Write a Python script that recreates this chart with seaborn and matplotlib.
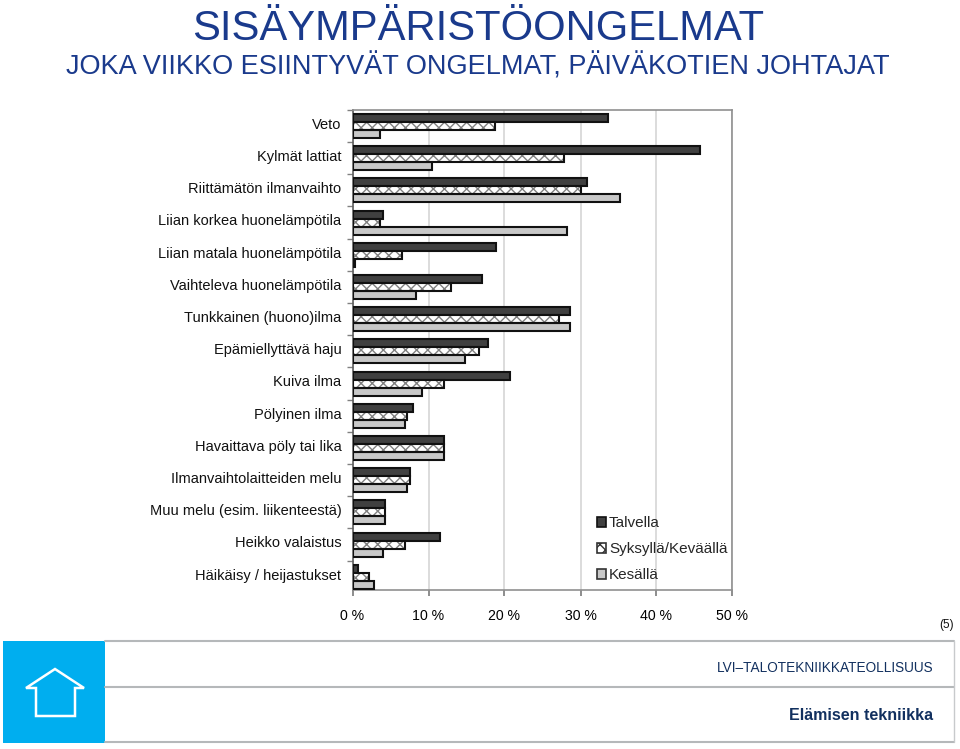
import numpy as np
import pandas as pd
import seaborn as sns
import matplotlib.pyplot as plt
from matplotlib.patches import Patch, Rectangle, Polygon
from matplotlib.lines import Line2D
from matplotlib.transforms import ScaledTranslation

kategoriat = ["Veto", "Kylmät lattiat", "Riittämätön ilmanvaihto", "Liian korkea huonelämpötila",
              "Liian matala huonelämpötila", "Vaihteleva huonelämpötila", "Tunkkainen (huono)ilma",
              "Epämiellyttävä haju", "Kuiva ilma", "Pölyinen ilma", "Havaittava pöly tai lika",
              "Ilmanvaihtolaitteiden melu", "Muu melu (esim. liikenteestä)", "Heikko valaistus",
              "Häikäisy / heijastukset"]
talvella = [33.6, 45.7, 30.8, 4.0, 18.9, 17.0, 28.6, 17.8, 20.7, 7.9, 12.0, 7.6, 4.3, 11.5, 0.7]
syksylla = [18.8, 27.8, 30.0, 3.6, 6.5, 13.0, 27.2, 16.6, 12.0, 7.2, 12.0, 7.6, 4.3, 6.9, 2.2]
kesalla = [3.6, 10.5, 35.2, 28.2, 0.3, 8.4, 28.6, 14.8, 9.1, 6.9, 12.0, 7.2, 4.3, 4.0, 2.8]
kaudet = ["Talvella", "Syksyllä/Keväällä", "Kesällä"]
xtikit = [0, 10, 20, 30, 40, 50]

W, H = 960, 749
sns.set_theme(style="white")
plt.rcParams['font.family'] = ['Liberation Sans', 'DejaVu Sans']
plt.rcParams['hatch.linewidth'] = 1.0

df = pd.DataFrame({"kategoria": kategoriat, kaudet[0]: talvella, kaudet[1]: syksylla, kaudet[2]: kesalla})
df = df.melt(id_vars="kategoria", var_name="kausi", value_name="arvo")

fig = plt.figure(figsize=(W / 100, H / 100), dpi=100)
ax = fig.add_axes([352.5 / W, 1 - 590 / H, 380 / W, 480.5 / H])

varit = {"Talvella": "#404040", "Syksyllä/Keväällä": "white", "Kesällä": "#c8c8c8"}
sns.barplot(data=df, y="kategoria", x="arvo", hue="kausi", hue_order=kaudet, order=kategoriat,
            palette=varit, orient="h", width=0.75, gap=0, errorbar=None,
            edgecolor="#111111", linewidth=1.5, legend=False, ax=ax, zorder=3)

# keskimmäiset palkit: harmaa ristikko + musta reuna erikseen
n = len(kategoriat)
for p in ax.patches[n:2 * n]:
    p.set_hatch("xxx")
    p.set_edgecolor("#808080")
    p.set_linewidth(0)
    ax.add_patch(Rectangle(p.get_xy(), p.get_width(), p.get_height(), fill=False,
                           edgecolor="#111111", linewidth=1.5, zorder=4))

ax.set_xlim(0, 50)
ax.set_ylim(14.41, -0.512)
ax.set_xlabel("")
ax.set_ylabel("")
ax.set_xticks(xtikit)
ax.set_xticklabels([f"{v} %" for v in xtikit], fontsize=10.2, color="black")
ax.xaxis.grid(True, color="#d9d9d9", linewidth=1.3, zorder=0)
ax.yaxis.grid(False)
ax.set_axisbelow(True)
ax.tick_params(axis="x", length=4, color="#808080", pad=9.5, bottom=True)
ax.tick_params(axis="y", which="major", length=0, pad=8, labelsize=10.5, labelcolor="#111111")
ax.set_yticks(np.arange(-0.5, n - 0.5), minor=True)
ax.tick_params(axis="y", which="minor", length=4, color="#808080", left=True)
for s in ax.spines.values():
    s.set_color("#909090")
    s.set_linewidth(1.2)
ax.spines["left"].set_color("#606060")
# nimet hieman ryhmän keskikohdan yläpuolelle
for lab in ax.get_yticklabels():
    lab.set_transform(lab.get_transform() + ScaledTranslation(0, 2 / 72, fig.dpi_scale_trans))

# selite
kahvat = [Patch(facecolor="#404040", edgecolor="#111111", linewidth=1.2),
          Patch(facecolor="white", edgecolor="#333333", linewidth=1.2, hatch="xxx"),
          Patch(facecolor="#c8c8c8", edgecolor="#333333", linewidth=1.2)]
ax.legend(kahvat, kaudet, loc="lower left", bbox_to_anchor=((597 - 352.5) / 380, 0.016),
          frameon=False, fontsize=11, handlelength=0.6, handleheight=0.6, handletextpad=0.18,
          labelspacing=0.78, borderpad=0, borderaxespad=0)

# otsikot
fig.text(478.5 / W, 1 - 40 / H, "SISÄYMPÄRISTÖONGELMAT", ha="center", va="baseline", fontsize=30.1, color="#1a3a8c")
fig.text(478 / W, 1 - 75 / H, "JOKA VIIKKO ESIINTYVÄT ONGELMAT, PÄIVÄKOTIEN JOHTAJAT", ha="center", va="baseline",
         fontsize=19.55, color="#1a3a8c")
fig.text(954 / W, 1 - 625 / H, "(5)", ha="right", va="center", fontsize=8.5, color="#111111")

# alapalkki
bg = fig.add_axes([0, 0, 1, 1], zorder=-1)
bg.set_xlim(0, W)
bg.set_ylim(H, 0)
bg.axis("off")
bg.add_patch(Rectangle((3, 641), 102, 102, facecolor="#00aeef", edgecolor="none"))
for y in [641, 687, 742]:
    bg.add_line(Line2D([105, 954], [y, y], color="#b5b8ba", linewidth=1.5))
bg.add_line(Line2D([954, 954], [641, 742], color="#c8cacc", linewidth=1))
bg.add_patch(Polygon([[26, 688], [55, 669], [84, 688], [75, 688], [75, 716], [36, 716], [36, 688]],
                     closed=True, fill=False, edgecolor="white", linewidth=1.8))
bg.text(934, 668, "LVI–TALOTEKNIIKKATEOLLISUUS", ha="right", va="center", fontsize=9.8, color="#12305f")
bg.text(933, 715, "Elämisen tekniikka", ha="right", va="center", fontsize=11.5, fontweight="bold", color="#12305f")

fig.savefig("out.png", dpi=100)
